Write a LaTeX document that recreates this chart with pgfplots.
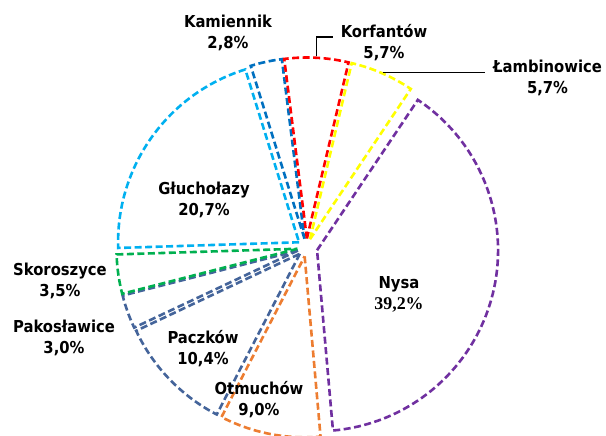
\documentclass[border=0pt]{standalone}
\usepackage{fontspec}
\usepackage{pgfplots}
\usepackage{pgfplotstable}
\pgfplotsset{compat=1.18}
\setmainfont{DejaVu Sans Condensed}
\newfontfamily\serifb{Liberation Serif}
\definecolor{cGluch}{HTML}{00B0F0}
\definecolor{cKam}{HTML}{0070C0}
\definecolor{cKorf}{HTML}{FF0000}
\definecolor{cLamb}{HTML}{FFFF00}
\definecolor{cNysa}{HTML}{7030A0}
\definecolor{cOtm}{HTML}{ED7D31}
\definecolor{cPacz}{HTML}{44649A}
\definecolor{cPako}{HTML}{44649A}
\definecolor{cSkor}{HTML}{00B050}

\pgfplotstableread{
name value col ex
Gluchołazy 20.7 cGluch 9
Kamiennik 2.8 cKam 9
Korfantow 5.7 cKorf 9
Lambinowice 5.7 cLamb 9
Nysa 39.2 cNysa 11
Otmuchow 9.0 cOtm 9
Paczkow 10.4 cPacz 9
Pakoslawice 3.0 cPako 9
Skoroszyce 3.5 cSkor 9
}\piedata

\tikzset{lab/.style={font=\bfseries\fontsize{16.5}{21}\selectfont, align=center, text=black, inner sep=0pt}}

\begin{document}
\begin{tikzpicture}
\begin{axis}[scale only axis, width=606bp, height=436bp,
  xmin=0, xmax=606, ymin=0, ymax=436, hide axis, clip=false]
\pgfplotstablegetrowsof{\piedata}
\pgfmathtruncatemacro{\N}{\pgfplotsretval-1}
\def\cum{0}
\pgfplotsforeachungrouped \i in {0,...,\N}{%
  \pgfplotstablegetelem{\i}{value}\of{\piedata}\let\v\pgfplotsretval
  \pgfplotstablegetelem{\i}{col}\of{\piedata}\let\c\pgfplotsretval
  \pgfplotstablegetelem{\i}{ex}\of{\piedata}\let\e\pgfplotsretval
  \pgfmathsetmacro{\a}{181.8-3.6*\cum}%
  \pgfmathsetmacro{\b}{181.8-3.6*(\cum+\v)}%
  \pgfmathsetmacro{\m}{(\a+\b)/2}%
  \pgfmathsetmacro{\cx}{306.4+\e*cos(\m)}%
  \pgfmathsetmacro{\cy}{188.5+\e*sin(\m)}%
  \pgfmathsetmacro{\px}{\cx+181*cos(\a)}%
  \pgfmathsetmacro{\py}{\cy+181*sin(\a)}%
  \edef\temp{\noexpand\draw[\c, line width=2.6bp, dash pattern=on 7bp off 3.5bp, fill=white, line join=miter]
    (axis cs:\cx,\cy) -- (axis cs:\px,\py) arc[start angle=\a, end angle=\b, radius=181bp] -- cycle;}%
  \temp
  \pgfmathsetmacro{\cum}{\cum+\v}%
}
% leader lines
\draw[black, line width=1.3bp] (axis cs:316.5,380) -- (axis cs:316.5,399) -- (axis cs:333,399);
\draw[black, line width=1.3bp] (axis cs:383,363.5) -- (axis cs:485,363.5);
% labels
\node[lab] at (axis cs:228,403.5) {Kamiennik\\2,8\%};
\node[lab] at (axis cs:384,393) {Korfantów\\5,7\%};
\node[lab] at (axis cs:547.5,358) {Łambinowice\\5,7\%};
\node[lab] at (axis cs:204,236.5) {Głuchołazy\\20,7\%};
\node[lab] at (axis cs:60,155) {Skoroszyce\\3,5\%};
\node[lab] at (axis cs:64,98) {Pakosławice\\3,0\%};
\node[lab] at (axis cs:203,87) {Paczków\\10,4\%};
\node[lab] at (axis cs:259,36) {Otmuchów\\9,0\%};
\node[lab] at (axis cs:399,141.5) {Nysa\\{\serifb\fontsize{18}{21}\selectfont 39,2\%}};
\end{axis}
\pgfresetboundingbox
\useasboundingbox (0,0) rectangle (606bp,436bp);
\end{tikzpicture}
\end{document}
